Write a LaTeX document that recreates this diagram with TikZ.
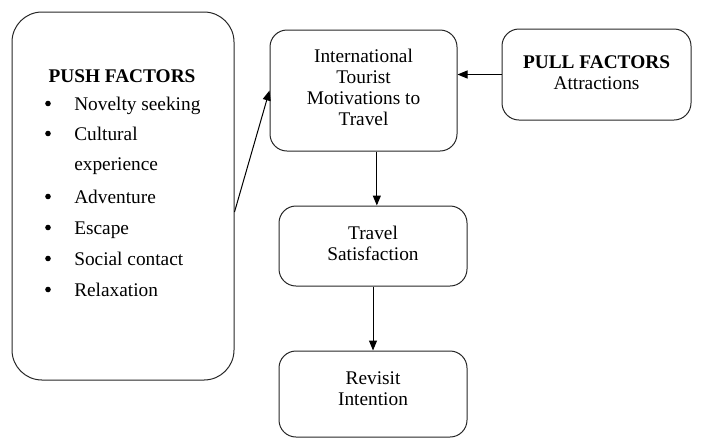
\documentclass[tikz,border=0pt]{standalone}
\usepackage{fontspec}
\setmainfont{Liberation Serif}
\usetikzlibrary{arrows.meta}
\begin{document}
\begin{tikzpicture}[x=0.75pt,y=-0.75pt,
  box/.style={draw=black!85, line width=0.75pt, rounded corners=12.75pt, inner sep=0pt, align=center, font=\fontsize{14.5}{15.75}\selectfont},
  txt/.style={inner sep=0pt, font=\fontsize{14.5}{17}\selectfont},
  dot/.style={circle, fill=black, inner sep=0pt, minimum size=4.2pt},
  arr/.style={line width=0.75pt, -{Triangle[length=7.5pt,width=6pt]}}]
\useasboundingbox (0,0) rectangle (702,444);
% push factors box
\node[box, rounded corners=22.5pt, minimum width=166.5pt, minimum height=276pt] (push) at (123,196) {};
\node[txt, anchor=base] (pushtitle) at (122,82) {\textbf{PUSH FACTORS}};
\node[dot] (b1) at (48,103.5) {};
\node[txt, anchor=base west] (i1) at (74,110) {Novelty seeking};
\node[dot] (b2) at (48,133.5) {};
\node[txt, anchor=base west] (i2) at (74,140) {Cultural};
\node[txt, anchor=base west] (i2b) at (74,170) {experience};
\node[dot] (b3) at (48,196.5) {};
\node[txt, anchor=base west] (i3) at (74,203) {Adventure};
\node[dot] (b4) at (48,227.5) {};
\node[txt, anchor=base west] (i4) at (74,234) {Escape};
\node[dot] (b5) at (48,258.5) {};
\node[txt, anchor=base west] (i5) at (74,265) {Social contact};
\node[dot] (b6) at (48,289.5) {};
\node[txt, anchor=base west] (i6) at (74,296) {Relaxation};
% other boxes
\node[box, text depth=4.5pt, minimum width=140.25pt, minimum height=90.75pt] (intl) at (363.5,90.5) {International\\Tourist\\Motivations to\\Travel};
\node[box, text depth=2.5pt, minimum width=141.75pt, minimum height=68.25pt] (pull) at (596.5,74.5) {\textbf{PULL FACTORS}\\Attractions};
\node[box, text depth=4.5pt, minimum width=141pt, minimum height=60pt] (travel) at (373,246) {Travel\\Satisfaction};
\node[box, text depth=7.5pt, minimum width=141pt, minimum height=64.5pt] (revisit) at (373,394) {Revisit\\Intention};
% arrows
\draw[arr] ([yshift=-12pt]push.east) -- (intl.west);
\draw[arr] (pull.west) -- (pull.west -| intl.east);
\draw[arr] ([xshift=10pt]intl.south) -- ([xshift=10pt]intl.south |- travel.north);
\draw[arr] (travel.south) -- (revisit.north);
\end{tikzpicture}
\end{document}
